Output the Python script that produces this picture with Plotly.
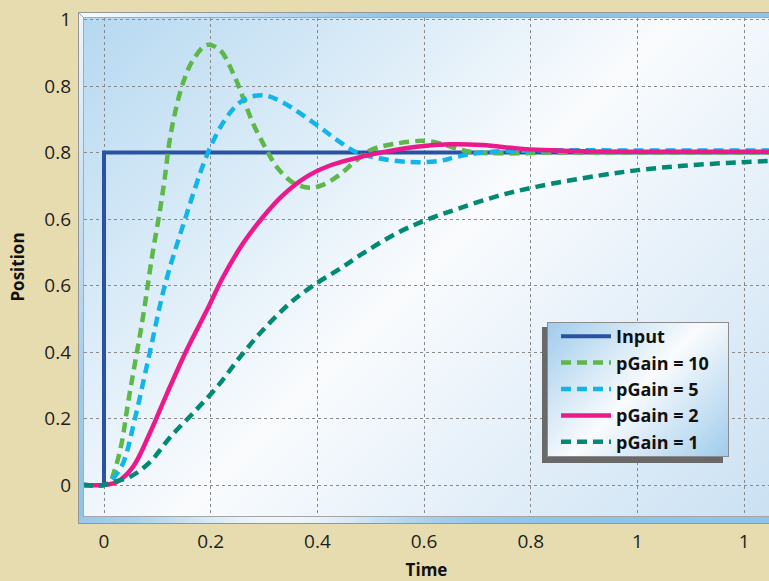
import zlib, struct, base64
import numpy as np
import plotly.graph_objects as go

# ---------------- data ----------------
x_input = [-0.04, 0.0, 0.0, 1.25]
y_input = [0.0, 0.0, 0.8, 0.8]

x_gain10 = [-0.04, 0.0, 0.01, 0.02, 0.033, 0.045, 0.058, 0.073, 0.09, 0.105, 0.114, 0.122,
            0.133, 0.148, 0.167, 0.193, 0.217, 0.242, 0.26, 0.279, 0.302, 0.324, 0.355,
            0.386, 0.41, 0.44, 0.47, 0.5, 0.55, 0.6, 0.63, 0.66, 0.69, 0.75, 0.85, 1.0, 1.25]
y_gain10 = [0.0, 0.0, 0.005, 0.036, 0.10, 0.197, 0.293, 0.404, 0.549, 0.662, 0.74, 0.82,
            0.895, 0.967, 1.023, 1.059, 1.047, 0.991, 0.934, 0.871, 0.813, 0.765, 0.727,
            0.715, 0.722, 0.745, 0.778, 0.806, 0.822, 0.828, 0.822, 0.81, 0.801, 0.798, 0.80, 0.80, 0.80]

x_gain5 = [-0.04, 0.0, 0.01, 0.02, 0.036, 0.058, 0.086, 0.114, 0.152, 0.195, 0.23, 0.261,
           0.298, 0.336, 0.399, 0.437, 0.474, 0.512, 0.574, 0.63, 0.662, 0.71, 0.8, 1.0, 1.25]
y_gain5 = [0.0, 0.0, 0.004, 0.02, 0.053, 0.16, 0.32, 0.48, 0.64, 0.80, 0.885, 0.926,
           0.938, 0.92, 0.866, 0.83, 0.80, 0.787, 0.777, 0.78, 0.79, 0.80, 0.805, 0.805, 0.805]

x_gain2 = [-0.04, 0.0, 0.024, 0.054, 0.086, 0.118, 0.155, 0.193, 0.223, 0.261, 0.298,
           0.336, 0.38, 0.42, 0.461, 0.523, 0.586, 0.649, 0.71, 0.774, 0.823, 0.9, 1.0, 1.25]
y_gain2 = [0.0, 0.0, 0.007, 0.043, 0.125, 0.22, 0.325, 0.421, 0.50, 0.582, 0.645,
           0.698, 0.742, 0.767, 0.783, 0.801, 0.814, 0.82, 0.818, 0.81, 0.806, 0.803, 0.802, 0.802]

x_gain1 = [-0.04, 0.0, 0.011, 0.049, 0.086, 0.124, 0.167, 0.212, 0.255, 0.298, 0.349,
           0.399, 0.442, 0.48, 0.549, 0.605, 0.662, 0.737, 0.812, 0.93, 1.01, 1.085, 1.168, 1.25]
y_gain1 = [0.0, 0.0, 0.005, 0.02, 0.055, 0.115, 0.173, 0.236, 0.308, 0.373, 0.438,
           0.486, 0.52, 0.553, 0.606, 0.638, 0.664, 0.695, 0.718, 0.745, 0.759, 0.768, 0.775, 0.78]

x_tickvals = [0, 0.2, 0.4, 0.6, 0.8, 1.0, 1.2]
x_ticktext = ["0", "0.2", "0.4", "0.6", "0.8", "1", "1"]
y_tickvals = [0, 0.16, 0.32, 0.48, 0.64, 0.8, 0.96, 1.12]
y_ticktext = ["0", "0.2", "0.4", "0.6", "0.6", "0.8", "0.8", "1"]

series = [
    ("Input", x_input, y_input, "#2a52a3", "solid", 4, "linear"),
    ("pGain = 10", x_gain10, y_gain10, "#5cb848", "10px,6px", 4.5, "spline"),
    ("pGain = 5", x_gain5, y_gain5, "#12b5ea", "10px,6px", 4.5, "spline"),
    ("pGain = 2", x_gain2, y_gain2, "#ec198d", "solid", 4.5, "spline"),
    ("pGain = 1", x_gain1, y_gain1, "#008a74", "10px,6px", 4.5, "spline"),
]

# ---------------- decoration images (gradient panels) ----------------
def png_uri(arr):
    arr = np.ascontiguousarray(arr.astype(np.uint8))
    h, w, c = arr.shape
    ctype = 6 if c == 4 else 2
    raw = b"".join(b"\x00" + arr[i].tobytes() for i in range(h))
    def chunk(tag, data):
        return (struct.pack(">I", len(data)) + tag + data +
                struct.pack(">I", zlib.crc32(tag + data) & 0xffffffff))
    png = (b"\x89PNG\r\n\x1a\n" +
           chunk(b"IHDR", struct.pack(">IIBBBBB", w, h, 8, ctype, 0, 0, 0)) +
           chunk(b"IDAT", zlib.compress(raw, 9)) + chunk(b"IEND", b""))
    return "data:image/png;base64," + base64.b64encode(png).decode()

def diag_gradient(w, h, c0, c1, split):
    xx, yy = np.meshgrid(np.arange(w), np.arange(h))
    s = (xx + yy) / float(w + h - 2)
    white = np.array([250, 252, 254], float)
    c0 = np.array(c0, float); c1 = np.array(c1, float)
    t1 = np.clip(s / split, 0, 1)[..., None]
    t2 = np.clip((s - split) / (1 - split), 0, 1)[..., None]
    out = np.where((s < split)[..., None], c0 + (white - c0) * t1, white + (c1 - white) * t2)
    return out

W_PLOT = 685   # plot area px width
H_PLOT = 498   # plot area px height
FW, FH = 697, 512
frame = np.zeros((FH, FW, 3), float)
band_blue = np.array([143, 196, 233], float)
white = np.array([250, 252, 254], float)
frame[:, :] = band_blue
for x in range(FW):
    w = np.clip(1 - x / 320.0, 0, 1)
    frame[1:5, x] = band_blue + (white - band_blue) * w
for y in range(FH):
    w = np.clip(1 - y / 470.0, 0, 1) * 0.9
    frame[y, 1:5] = band_blue + (white - band_blue) * w
for x in range(FW):
    w = np.exp(-((x - 200) / 130.0) ** 2) * 0.9
    frame[FH - 7:FH - 1, x] = band_blue + (white - band_blue) * w
gray = np.array([150, 150, 150], float)
frame[0, :] = gray
frame[:, 0] = gray
frame[FH - 1, :] = gray
frame[5, 5:] = [170, 170, 170]
frame[5:FH - 7, 5] = [170, 170, 170]
frame[FH - 8, 5:] = [165, 165, 165]
inner = diag_gradient(1100, H_PLOT, (182, 217, 241), (170, 207, 236), 0.37)
frame[6:FH - 8, 6:] = inner[:, :FW - 6]
for i in range(6):
    frame[i, i] = [170, 170, 170]
frame_uri = png_uri(frame)

LW, LH = 187, 141
leg = np.zeros((LH, LW, 4), float)
leg[5:141, 0:181, :3] = [105, 105, 105]
leg[5:141, 0:181, 3] = 255
box = diag_gradient(182, 135, (160, 204, 236), (160, 204, 236), 0.5)
leg[0:135, 5:187, :3] = box
leg[0:135, 5:187, 3] = 255
bc = [140, 140, 140]
leg[0, 5:187, :3] = bc
leg[134, 5:187, :3] = bc
leg[0:135, 5, :3] = bc
leg[0:135, 186, :3] = bc
legend_uri = png_uri(leg)

def px_to_paper_x(px):
    return (px - 84) / W_PLOT

def px_to_paper_y(py):
    return (516 - py) / H_PLOT

# ---------------- figure ----------------
fig = go.Figure()
for name, xs, ys, color, dash, width, shape in series:
    fig.add_trace(go.Scatter(
        x=xs, y=ys, mode="lines", name=name,
        line=dict(color=color, width=width, dash=dash, shape=shape, smoothing=1.0),
    ))

fig.add_layout_image(dict(
    source=frame_uri, xref="paper", yref="paper",
    x=px_to_paper_x(78), y=px_to_paper_y(12),
    sizex=FW / W_PLOT, sizey=FH / H_PLOT,
    xanchor="left", yanchor="top", sizing="stretch", layer="below",
))
fig.add_layout_image(dict(
    source=legend_uri, xref="paper", yref="paper",
    x=px_to_paper_x(542), y=px_to_paper_y(322),
    sizex=LW / W_PLOT, sizey=LH / H_PLOT,
    xanchor="left", yanchor="top", sizing="stretch", layer="above",
))

axis_font = dict(family="Open Sans, sans-serif", size=19, color="#1e1e1e")
grid = dict(showgrid=True, gridcolor="#8a8a8a", gridwidth=1, griddash="3px,3px",
            zeroline=False, showline=False, ticks="", tickfont=axis_font, automargin=False)
title_font = dict(family="Open Sans, sans-serif", size=17, weight="bold", color="#111")

fig.update_layout(
    width=769, height=581,
    margin=dict(l=84, r=0, t=18, b=65),
    paper_bgcolor="#e7dcaf",
    plot_bgcolor="rgba(0,0,0,0)",
    font=dict(family="Open Sans, sans-serif", color="#1e1e1e"),
    xaxis=dict(range=[-0.0375, 1.2465], tickvals=x_tickvals, ticktext=x_ticktext,
               ticklabelstandoff=12,
               title=dict(text="Time", standoff=12, font=title_font),
               **grid),
    yaxis=dict(range=[-0.0746, 1.1237], tickvals=y_tickvals, ticktext=y_ticktext,
               ticklabelstandoff=12,
               title=dict(text="Position", standoff=15, font=title_font),
               **grid),
    showlegend=True,
    legend=dict(x=px_to_paper_x(556), y=px_to_paper_y(318), xanchor="left", yanchor="top",
                bgcolor="rgba(0,0,0,0)", borderwidth=0, itemwidth=50,
                font=dict(family="Open Sans, sans-serif", size=18, weight="bold", color="#111"),
                tracegroupgap=0),
)

fig.write_html("out.html", config={"displayModeBar": False},
               post_script="document.body.style.margin='0px';document.body.style.overflow='hidden';")
